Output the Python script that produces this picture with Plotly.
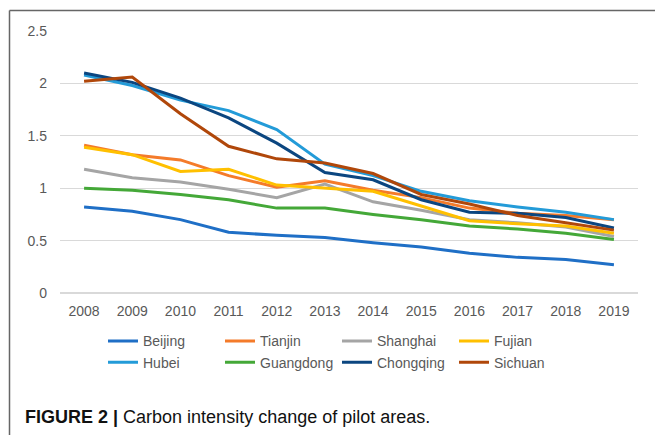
import plotly.graph_objects as go

years = ["2008", "2009", "2010", "2011", "2012", "2013", "2014", "2015", "2016", "2017", "2018", "2019"]

beijing = [0.82, 0.78, 0.70, 0.58, 0.55, 0.53, 0.48, 0.44, 0.38, 0.34, 0.32, 0.27]
tianjin = [1.41, 1.32, 1.27, 1.12, 1.01, 1.07, 0.98, 0.91, 0.81, 0.76, 0.74, 0.70]
shanghai = [1.18, 1.10, 1.06, 0.99, 0.91, 1.04, 0.87, 0.79, 0.70, 0.67, 0.63, 0.54]
fujian = [1.39, 1.32, 1.16, 1.18, 1.03, 1.00, 0.97, 0.83, 0.69, 0.66, 0.64, 0.57]
hubei = [2.08, 1.98, 1.84, 1.74, 1.56, 1.23, 1.12, 0.97, 0.88, 0.82, 0.77, 0.70]
guangdong = [1.00, 0.98, 0.94, 0.89, 0.81, 0.81, 0.75, 0.70, 0.64, 0.61, 0.57, 0.51]
chongqing = [2.10, 2.01, 1.86, 1.67, 1.43, 1.15, 1.08, 0.89, 0.77, 0.76, 0.72, 0.62]
sichuan = [2.02, 2.06, 1.71, 1.40, 1.28, 1.24, 1.14, 0.94, 0.85, 0.74, 0.67, 0.60]

series_names = ["Beijing", "Tianjin", "Shanghai", "Fujian", "Hubei", "Guangdong", "Chongqing", "Sichuan"]
series_values = [beijing, tianjin, shanghai, fujian, hubei, guangdong, chongqing, sichuan]
colors = ["#1f6fc6", "#f47b2a", "#a5a5a5", "#ffc000", "#239bd8", "#44a838", "#0b4680", "#b0470a"]

y_ticks = [0, 0.5, 1, 1.5, 2, 2.5]
y_tick_labels = ["0", "0.5", "1", "1.5", "2", "2.5"]

fig = go.Figure()
for name, vals, col in zip(series_names, series_values, colors):
    fig.add_trace(go.Scatter(
        x=years, y=vals, name=name, mode="lines",
        line=dict(color=col, width=3),
    ))

W, H = 655, 435
L, R, T, B = 60, 17, 31, 142.3
pw = W - L - R
ph = H - T - B

def px2x(px):
    return (px - L) / pw

def py2y(py):
    return (H - B - py) / ph

fig.update_layout(
    width=W, height=H,
    margin=dict(l=L, r=R, t=T, b=B),
    paper_bgcolor="white", plot_bgcolor="white",
    font=dict(family="Liberation Sans, Arial, sans-serif", size=14, color="#595959"),
    xaxis=dict(
        type="category", range=[-0.5, 11.5],
        showgrid=False, showline=False, zeroline=False,
        ticks="", ticklabelstandoff=8,
        tickfont=dict(size=14, color="#595959"),
        fixedrange=True,
    ),
    yaxis=dict(
        range=[0, 2.5], tickvals=y_ticks, ticktext=y_tick_labels,
        showgrid=True, gridcolor="#d9d9d9", gridwidth=1,
        zeroline=True, zerolinecolor="#d9d9d9", zerolinewidth=1.5,
        showline=False, ticks="", ticklabelstandoff=12,
        tickfont=dict(size=14, color="#595959"),
        fixedrange=True,
    ),
    showlegend=True,
    legend=dict(
        orientation="h",
        x=px2x(103), xanchor="left",
        y=py2y(325), yanchor="top",
        entrywidth=72, entrywidthmode="pixels",
        itemwidth=30,
        font=dict(size=14, color="#595959"),
        bgcolor="rgba(0,0,0,0)",
        tracegroupgap=0,
    ),
    shapes=[
        dict(type="line", xref="paper", yref="paper",
             x0=px2x(9.5), x1=px2x(660), y0=py2y(10.5), y1=py2y(10.5),
             line=dict(color="#666666", width=1.5)),
        dict(type="line", xref="paper", yref="paper",
             x0=px2x(9.5), x1=px2x(9.5), y0=py2y(10.5), y1=py2y(440),
             line=dict(color="#666666", width=1.5)),
    ],
    annotations=[
        dict(
            xref="paper", yref="paper",
            x=px2x(23), y=py2y(417), xanchor="left", yanchor="middle",
            text="<b>FIGURE 2 |</b> Carbon intensity change of pilot areas.",
            showarrow=False,
            font=dict(family="Liberation Sans, Arial, sans-serif", size=18, color="#111111"),
        )
    ],
)

fig.write_html(
    "out.html",
    config={"displayModeBar": False},
    post_script="document.body.style.margin='0px';",
)
